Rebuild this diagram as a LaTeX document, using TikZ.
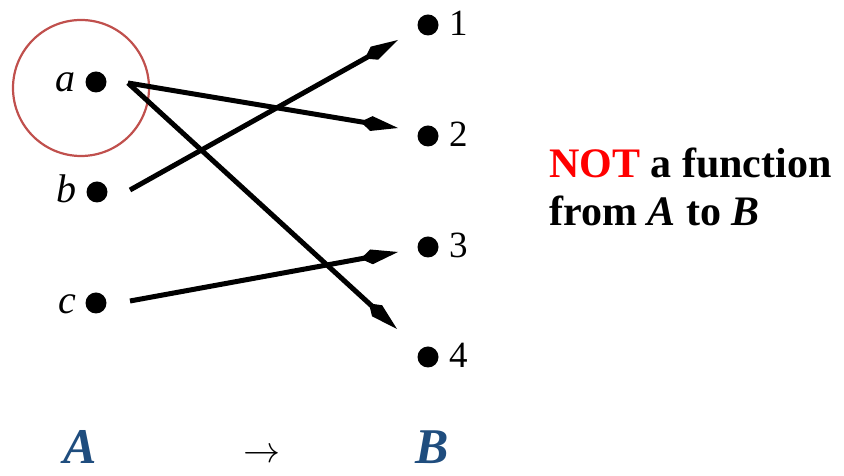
\documentclass[tikz,border=0pt]{standalone}
\usepackage{fontspec}
\usepackage{graphicx}
\setmainfont{Liberation Serif}
\usetikzlibrary{arrows.meta}
\definecolor{circred}{RGB}{192,80,77}
\definecolor{setblue}{RGB}{31,77,126}
\begin{document}
\begin{tikzpicture}[x=1pt,y=1pt,
  dotnode/.style={circle,fill=black,inner sep=0pt,minimum size=21pt},
  elemlbl/.style={font=\fontsize{40}{42}\selectfont\itshape,anchor=base east,inner sep=0pt},
  numlbl/.style={font=\fontsize{37}{39}\selectfont,anchor=base west,inner sep=0pt},
  maplink/.style={line width=5pt,-{Kite[length=38pt,width=15pt,inset=11pt]}},
  setlbl/.style={font=\fontsize{50}{52}\selectfont\bfseries\itshape,text=setblue,anchor=base,inner sep=0pt},
  msg/.style={font=\fontsize{42}{44}\selectfont\bfseries,anchor=base west,inner sep=0pt}
]
\useasboundingbox (0,0) rectangle (844,476);
% domain dots
\node[dotnode] (a) at (96,394) {};
\node[dotnode] (b) at (97,284) {};
\node[dotnode] (c) at (96,173) {};
\node[elemlbl] (la) at (76,384) {a};
\node[elemlbl] (lb) at (77,273) {b};
\node[elemlbl] (lc) at (76,162) {c};
% codomain dots
\node[dotnode] (n1) at (428,451) {};
\node[dotnode] (n2) at (428,340) {};
\node[dotnode] (n3) at (428,229) {};
\node[dotnode] (n4) at (428,119) {};
\node[numlbl] (l1) at (449,440) {1};
\node[numlbl] (l2) at (449,329) {2};
\node[numlbl] (l3) at (449,218) {3};
\node[numlbl] (l4) at (449,108) {4};
% circle around a
\node[circle,draw=circred,line width=2.2pt,minimum size=136pt,inner sep=0pt] (ring) at (81,388) {};
% arrow start/end coordinates
\coordinate (sa) at (128,393);
\coordinate (sb) at (130,286);
\coordinate (sc) at (130,175);
\coordinate (t1) at (398,436);
\coordinate (t2) at (398,348);
\coordinate (t3) at (398,224);
\coordinate (t4) at (397,147);
\draw[maplink] (sa) -- (t2);
\draw[maplink] (sa) -- (t4);
\draw[maplink] (sb) -- (t1);
\draw[maplink] (sc) -- (t3);
% bottom labels
\node[setlbl] (A) at (80,12) {A};
\node[anchor=center,inner sep=0pt] (arr) at (262,20) {\resizebox{37pt}{!}{$\rightarrow$}};
\node[setlbl] (B) at (432,12) {B};
% message
\node[msg] (m1) at (549,298) {\textcolor{red}{NOT} a function};
\node[msg] (m2) at (549,250) {from \textit{A} to \textit{B}};
\end{tikzpicture}
\end{document}
